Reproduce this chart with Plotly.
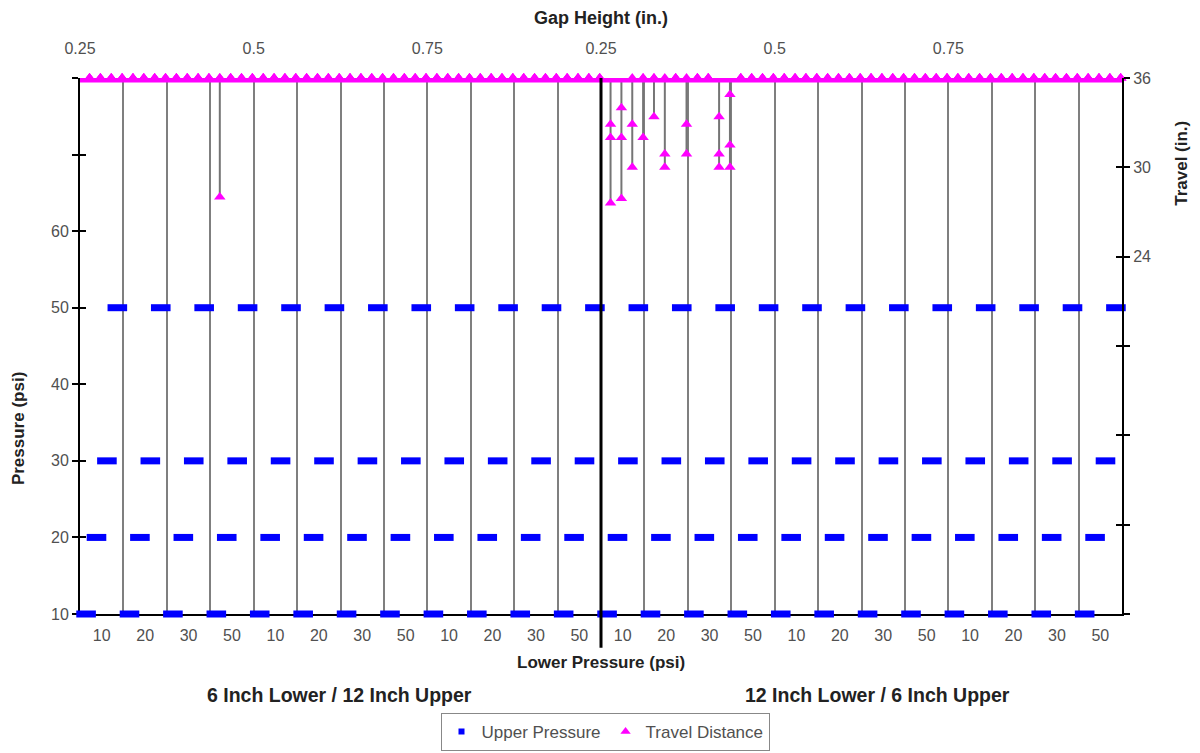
import plotly.graph_objects as go

# ---------------- data ----------------
CONFIGS = ["6 Inch Lower / 12 Inch Upper", "12 Inch Lower / 6 Inch Upper"]
GAP_HEIGHTS = [0.25, 0.5, 0.75]
LOWER_PRESSURES = [10, 20, 30, 50]
UPPER_PRESSURES = [10, 20, 30, 50]

# Travel distance (in.): full travel unless listed below (3 trials per condition)
FULL_TRAVEL = 36
N_TRIALS = 3
short_cat = [3, 12, 12, 12, 12, 13, 13, 13, 14, 14]
short_upper = [10, 10, 20, 30, 50, 10, 20, 50, 30, 50]
short_trials = [
    [28.0, 36, 36],
    [32.9, 32.0, 27.6],
    [34.0, 32.0, 27.9],
    [32.9, 30.0, 36],
    [32.0, 36, 36],
    [33.4, 36, 36],
    [30.9, 30.0, 36],
    [32.9, 30.9, 36],
    [33.4, 30.9, 30.0],
    [34.9, 31.5, 30.0],
]

# ---------------- layout constants ----------------
UP_OFFSETS = [0.14, 0.38, 0.62, 0.86]     # position of upper-pressure marks within a category
TR_OFFSETS = [0.22, 0.47, 0.72, 0.97]     # position of travel marks within a category

categories = [(c, g, lp) for c in CONFIGS for g in GAP_HEIGHTS for lp in LOWER_PRESSURES]
n_cat = len(categories)

# upper pressure series
up_x, up_y = [], []
for i in range(n_cat):
    for j, up in enumerate(UPPER_PRESSURES):
        up_x.append(i + UP_OFFSETS[j])
        up_y.append(up)

# travel series
short_map = {(c, u): t for c, u, t in zip(short_cat, short_upper, short_trials)}
tr_x, tr_y = [], []
drop_x, drop_y = [], []
for i in range(n_cat):
    for j, up in enumerate(UPPER_PRESSURES):
        trials = short_map.get((i, up), [FULL_TRAVEL] * N_TRIALS)
        x = i + TR_OFFSETS[j]
        for t in trials:
            tr_x.append(x)
            tr_y.append(t)
        if min(trials) < FULL_TRAVEL:
            drop_x += [x, x, None]
            drop_y += [FULL_TRAVEL, min(trials), None]

FONT = "Liberation Sans, Arial, sans-serif"
TICKFONT = dict(family=FONT, size=16, color="#505050")

fig = go.Figure()

# drop lines for shortened travel
fig.add_trace(go.Scatter(x=drop_x, y=drop_y, mode="lines", xaxis="x", yaxis="y2",
                         line=dict(color="#757575", width=2), showlegend=False,
                         hoverinfo="skip"))
# full travel band
fig.add_trace(go.Scatter(x=[0, n_cat], y=[FULL_TRAVEL, FULL_TRAVEL], mode="lines",
                         xaxis="x", yaxis="y2", line=dict(color="#ff00ff", width=9),
                         showlegend=False, hoverinfo="skip", cliponaxis=False))
# travel markers
fig.add_trace(go.Scatter(x=tr_x, y=tr_y, mode="markers", xaxis="x", yaxis="y2",
                         marker=dict(symbol="triangle-up", size=10, color="#ff00ff"),
                         showlegend=False, cliponaxis=False, name="Travel Distance"))
# upper pressure markers
fig.add_trace(go.Scatter(x=up_x, y=up_y, mode="markers", xaxis="x", yaxis="y",
                         marker=dict(symbol="line-ew", size=14,
                                     line=dict(color="#0000ff", width=7)),
                         showlegend=False, cliponaxis=False, name="Upper Pressure"))

# legend entries
fig.add_trace(go.Scatter(x=[None], y=[None], mode="markers", name="Upper Pressure",
                         marker=dict(symbol="square", size=6, color="#0000ff")))
fig.add_trace(go.Scatter(x=[None], y=[None], mode="markers", name="Travel Distance",
                         yaxis="y2", marker=dict(symbol="triangle-up", size=9, color="#ff00ff")))

# helper traces so overlay axes are drawn
fig.add_trace(go.Scatter(x=[None], y=[None], xaxis="x2", yaxis="y", showlegend=False, hoverinfo="skip"))
fig.add_trace(go.Scatter(x=[None], y=[None], xaxis="x", yaxis="y3", showlegend=False, hoverinfo="skip"))
fig.add_trace(go.Scatter(x=[None], y=[None], xaxis="x", yaxis="y4", showlegend=False, hoverinfo="skip"))

p_ticks = list(range(10, 81, 10))
p_text = [str(v) if v <= 60 else "" for v in p_ticks]
t_ticks = list(range(0, 37, 6))
t_text = [str(v) if v >= 24 else "" for v in t_ticks]

top_vals = [k * len(LOWER_PRESSURES) for k in range(len(CONFIGS) * len(GAP_HEIGHTS))]
top_text = [str(g) for c in CONFIGS for g in GAP_HEIGHTS]

fig.update_layout(
    width=1200, height=753,
    margin=dict(l=80, r=78, t=78, b=139),
    paper_bgcolor="white", plot_bgcolor="white",
    font=dict(family=FONT),
    xaxis=dict(range=[0, n_cat], tickmode="array",
               tickvals=[i + 0.5 for i in range(n_cat)],
               ticktext=[str(c[2]) for c in categories],
               tickfont=TICKFONT, ticks="", showgrid=False, zeroline=False,
               showline=True, linecolor="black", linewidth=2, layer="below traces",
               ticklabelstandoff=6,
               minor=dict(tickmode="array", tickvals=list(range(1, n_cat)),
                          showgrid=True, gridcolor="#7f7f7f", gridwidth=2, ticks="")),
    xaxis2=dict(overlaying="x", side="top", range=[0, n_cat], tickmode="array",
                tickvals=top_vals, ticktext=top_text, tickfont=TICKFONT,
                ticks="", showgrid=False, zeroline=False, showline=False,
                ticklabelstandoff=20),
    yaxis=dict(range=[10, 80], tickmode="array", tickvals=p_ticks, ticktext=p_text,
               tickfont=TICKFONT, ticks="outside", ticklen=6, tickwidth=2,
               tickcolor="black", showline=True, linecolor="black", linewidth=2,
               showgrid=False, zeroline=False, layer="below traces"),
    yaxis3=dict(overlaying="y", range=[10, 80], tickmode="array", tickvals=p_ticks,
                showticklabels=False, ticks="inside", ticklen=6, tickwidth=2,
                tickcolor="black", showline=False, showgrid=False, zeroline=False),
    yaxis2=dict(overlaying="y", side="right", range=[0, FULL_TRAVEL], tickmode="array",
                tickvals=t_ticks, ticktext=t_text, tickfont=TICKFONT,
                ticks="outside", ticklen=6, tickwidth=2, tickcolor="black",
                showline=True, linecolor="black", linewidth=2,
                showgrid=False, zeroline=False),
    yaxis4=dict(overlaying="y", side="right", range=[0, FULL_TRAVEL], tickmode="array",
                tickvals=t_ticks, showticklabels=False, ticks="inside", ticklen=6,
                tickwidth=2, tickcolor="black", showline=False, showgrid=False,
                zeroline=False),
    legend=dict(orientation="h", xref="container", yref="container",
                x=605 / 1200, xanchor="center", y=2 / 753, yanchor="bottom",
                bordercolor="#888888", borderwidth=1,
                font=dict(family=FONT, size=17, color="#505050"),
                itemwidth=30, tracegroupgap=0),
    showlegend=True,
)

# separator between the two configurations
split = n_cat / len(CONFIGS)
fig.add_shape(type="line", xref="x", yref="paper", x0=split, x1=split, y0=-0.063, y1=1,
              line=dict(color="black", width=3), layer="above")

annots = [
    dict(text="<b>Gap Height (in.)</b>", x=0.5, y=1.112, size=18),
    dict(text="<b>Pressure (psi)</b>", x=-0.0595, y=0.345, size=17, textangle=-90),
    dict(text="<b>Travel (in.)</b>", x=1.0576, y=0.84, size=17, textangle=-90),
    dict(text="<b>Lower Pressure (psi)</b>", x=0.5, y=-0.0896, size=17),
    dict(text="<b>" + CONFIGS[0] + "</b>", x=0.2495, y=-0.151, size=19.5),
    dict(text="<b>" + CONFIGS[1] + "</b>", x=0.765, y=-0.151, size=19.5),
]
for a in annots:
    size = a.pop("size")
    fig.add_annotation(showarrow=False, xref="paper", yref="paper",
                       xanchor="center", yanchor="middle",
                       font=dict(family=FONT, size=size, color="#222222"), **a)

fig.write_html("out.html", config={"displayModeBar": False},
               post_script="document.body.style.margin='0px';")
